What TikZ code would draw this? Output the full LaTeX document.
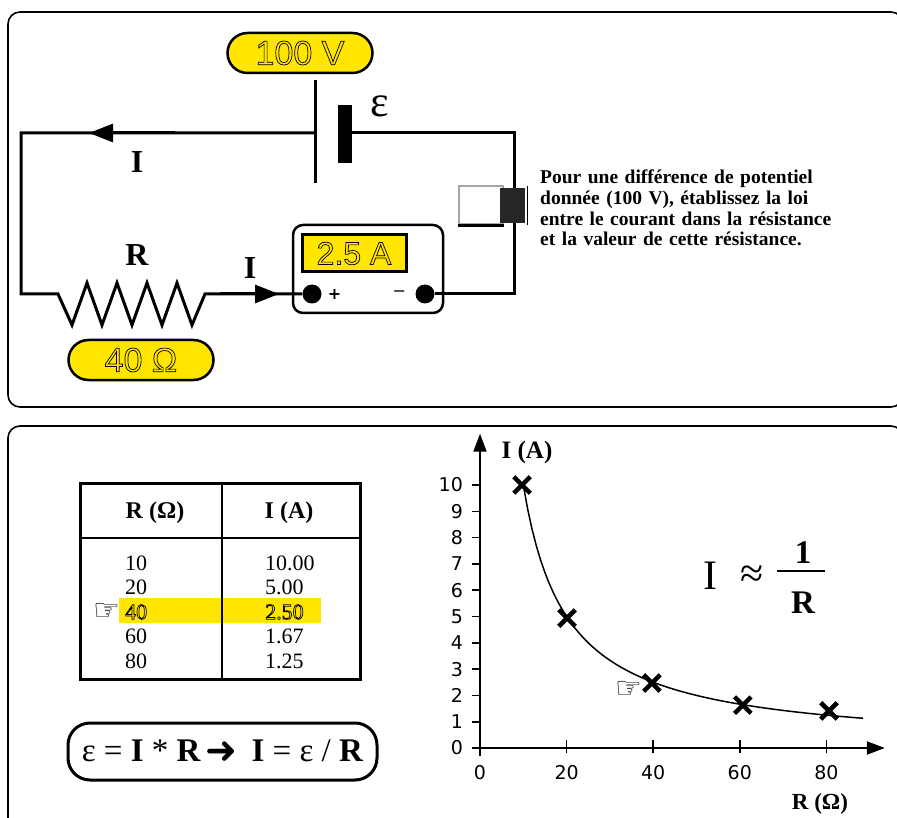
\documentclass[tikz,border=0pt]{standalone}
\usepackage{fontspec}
\setmainfont{Liberation Serif}
\newfontfamily\arialf{Liberation Sans}
\newfontfamily\dejavuf{DejaVu Sans}
\usetikzlibrary{arrows.meta,positioning,shapes.misc}
\definecolor{signyellow}{HTML}{FFE500}
\newcommand{\hollow}[1]{\special{pdf:literal direct 1 Tr 0.7 w}#1\special{pdf:literal direct 0 Tr}}
\newcommand{\fs}[1]{\fontsize{#1}{#1}\selectfont}
\tikzset{
        panel/.style = {draw, line width=1.6, rounded corners=12},
        wire/.style = {line width=3, line join=miter},
        current/.style = {wire, -{Triangle[length=24,width=18]}},
        pill/.style = {draw, fill=signyellow, rounded rectangle,
            line width=2.5, minimum width=145, minimum height=40,
            inner sep=0, font=\arialf\fs{34}},
        bigletter/.style = {inner sep=0, font=\bfseries\fs{32}},
        terminal/.style = {circle, fill, inner sep=0, minimum size=19},
        xmark/.style = {cross out, draw, line width=4.5, minimum size=12, inner sep=0},
        ticklbl/.style = {inner sep=0, font=\dejavuf\fs{19}},
        cell/.style = {inner sep=0, font=\fs{22}, anchor=west},
        pointer/.style = {inner sep=0, font=\dejavuf\fs{30}},
        axis/.style = {line width=2, -{Triangle[length=18,width=13]}},
    }

\begin{document}
\begin{tikzpicture}[x=1pt, y=-1pt]
    \useasboundingbox (0,0) rectangle (897,818);

    % panels
    \draw[panel] (8,12) rectangle (903,407);
    \draw[panel] (8,426) rectangle (903,835);

    % circuit
    \coordinate (tl) at (21,133);
    \coordinate (bl) at (21,294);
    \coordinate (tr) at (514,133);
    \coordinate (br) at (514,294);
    \draw[line width=3] (315,80) -- (315,183);
    \coordinate (cellpos) at (315,133);
    \node[fill, inner sep=0, minimum width=14, minimum height=58] (cellneg) at (345,134) {};
    \node[inner sep=0, font=\fs{44}] (emf) at (380,106) {ε};
    \node[pill] (volt) at (300,53) {\hollow{100 V}};

    \node[draw, line width=2.5, rounded corners=10, minimum width=150, minimum height=88] (ammeter) at (368,269) {};
    \node[draw, fill=signyellow, line width=3, minimum width=104, minimum height=37,
          inner sep=0, font=\arialf\fs{32}] (display) at (354,253.5) {\hollow{2.5 A}};
    \node[terminal] (tplus) at (312,294) {};
    \node[terminal] (tminus) at (425,294) {};
    \node[inner sep=0, font=\dejavuf\bfseries\fs{16}, right=6pt of tplus] (plus) {+};
    \node[inner sep=0, font=\dejavuf\fs{16}, left=9pt of tminus] (minus) {−};

    \draw[wire] (cellpos) -- (tl) -- (bl) -- (58,294)
        -- (72,325) -- (87,283) -- (102,325) -- (117,283) -- (132,325)
        -- (147,283) -- (162,325) -- (177,283) -- (192,325) -- (205,294)
        coordinate (rend) -- (tplus);
    \draw[wire] (tminus) -- (br) -- (tr) -- (cellneg.east |- tr);
    \draw[current] (175,133) -- (89,133);
    \draw[current] (220,294) -- (279,294);

    \node[draw=gray!70, fill=white, line width=2, minimum width=44, minimum height=38, inner sep=0] (plugbody) at (481,205.5) {};
    \draw[line width=2.5] (plugbody.south west) -- (plugbody.south east);
    \node[fill=black!85, inner sep=0, minimum width=25, minimum height=35] (plughead) at (512.5,205.5) {};
    \draw[line width=1.2] (plughead.north east) ++(2,-2) -- ++(0,39);

    \node[bigletter] (itop) at (137,162) {I};
    \node[bigletter] (rlbl) at (137,255) {R};
    \node[bigletter] (ibot) at (250,268) {I};
    \node[pill] (ohm) at (141,360) {\hollow{40 Ω}};

    \node[anchor=north west, align=left, inner sep=0, font=\bfseries\fs{19.5}, text width=340]
        (note) at (540,170) {\baselineskip=20.8pt Pour une différence de potentiel\\donnée (100 V), établissez la loi\\entre le courant dans la résistance\\et la valeur de cette résistance.};

    % table
    \fill[signyellow] (119,598) rectangle (321,623);
    \draw[line width=3] (80,483) rectangle (360,679);
    \draw[line width=2] (222,483) -- (222,679);
    \draw[line width=2] (80,538) -- (360,538);
    \node[inner sep=0, font=\bfseries\fs{24}] (hr) at (155,513) {R (Ω)};
    \node[inner sep=0, font=\bfseries\fs{24}] (hi) at (289,513) {I (A)};
    \foreach \r/\i [count=\k] in {10/10.00,20/5.00,40/2.50,60/1.67,80/1.25} {
        \ifnum\k=3
            \node[cell] (r\k) at (125,{563+(\k-1)*24.5}) {\hollow{\r}};
            \node[cell] (i\k) at (265,{563+(\k-1)*24.5}) {\hollow{\i}};
        \else
            \node[cell] (r\k) at (125,{563+(\k-1)*24.5}) {\r};
            \node[cell] (i\k) at (265,{563+(\k-1)*24.5}) {\i};
        \fi
    }
    \node[pointer, left=4pt of r3] (hand) {☞};

    % law
    \node[draw, line width=3, rounded corners=22, minimum width=309, minimum height=57, inner sep=0,
          font=\fs{33}] (law) at (222.5,751.5)
        {ε = \textbf{I} * \textbf{R}\hspace{5pt}{\dejavuf\bfseries\fs{38}\raisebox{-2pt}{➜}}\hspace{14pt}\textbf{I} = ε / \textbf{R}};

    % graph
    \begin{scope}[shift={(480,748)}, xscale=4.33, yscale=-26.3]
        \draw[axis] (-0.4,0) -- (93.5,0);
        \draw[axis] (0,-0.3) -- (0,11.95);
        \foreach \k in {0,...,10} {
            \draw[line width=1.6] (-1.9,\k) -- (0,\k);
            \node[ticklbl, anchor=east] at (-3.9,\k) {\k};
        }
        \foreach \v in {20,40,60,80}
            \draw[line width=1.6] (\v,-0.2) -- (\v,0.3);
        \foreach \v in {0,20,40,60,80}
            \node[ticklbl] at (\v,-0.95) {\v};
        \draw[line width=1.5] plot[domain=10:88.5, samples=80] (\x,{100/\x});
        \node[xmark] (p1) at (9.7,10) {};
        \node[xmark] (p2) at (20.1,4.94) {};
        \node[xmark] (p3) at (39.7,2.47) {};
        \node[xmark] (p4) at (60.7,1.63) {};
        \node[xmark] (p5) at (80.6,1.41) {};
        \node[pointer, left=1pt of p3, yshift=-7pt] (hand2) {☞};
    \end{scope}
    \node[inner sep=0, font=\bfseries\fs{25}] (ylbl) at (527,452) {I (A)};
    \node[inner sep=0, font=\bfseries\fs{23}] (xlbl) at (820,804) {R (Ω)};

    \node[inner sep=0, font=\fs{42}] (lawi) at (710,576) {I};
    \node[inner sep=0, font=\fs{42}] (approx) at (752,577) {≈};
    \draw[line width=1.6] (777,571) -- (825,571);
    \node[inner sep=0, font=\bfseries\fs{33}] (one) at (803,553) {1};
    \node[inner sep=0, font=\bfseries\fs{33}] (den) at (803,603) {R};
\end{tikzpicture}
\end{document}
